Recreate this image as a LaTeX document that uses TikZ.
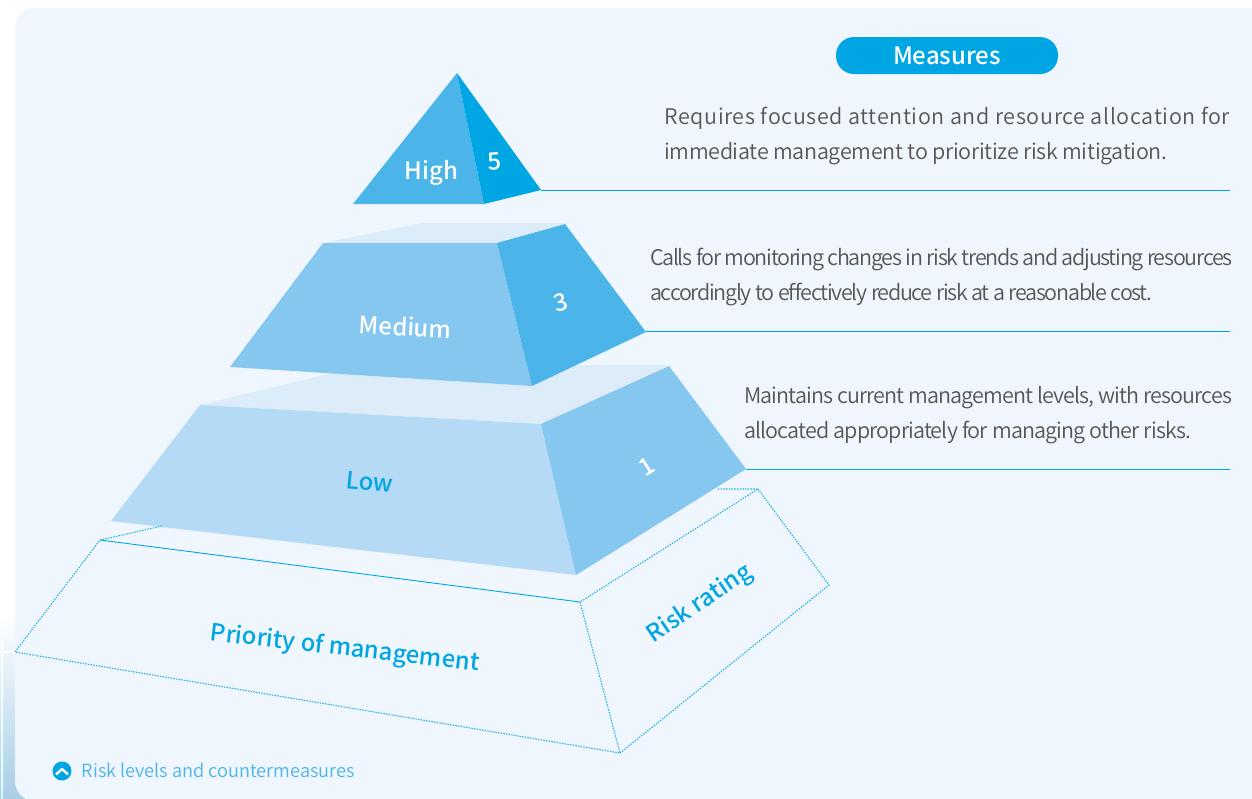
\documentclass[tikz,border=0pt]{standalone}
\usepackage{fontspec}
\setmainfont{Noto Sans CJK SC Medium}
\newfontfamily\thinfont{Noto Sans CJK SC DemiLight}
\newcommand{\bodyfont}[1]{\thinfont\addfontfeature{LetterSpace=#1}\fontsize{21.5}{21.5}\selectfont}
\definecolor{panelbg}{HTML}{EFF6FD}
\definecolor{capblue}{HTML}{00A6E3}
\definecolor{midblue}{HTML}{4BB4E9}
\definecolor{softblue}{HTML}{86C7EF}
\definecolor{paleblue}{HTML}{B5DAF5}
\definecolor{topblue}{HTML}{DCECF9}
\definecolor{stripblue}{HTML}{A8CEE6}
\definecolor{glowblue}{HTML}{D8FBFF}
\definecolor{bodygray}{HTML}{555555}
\tikzset{
  whitelabel/.style={text=white,font=\fontsize{24}{24}\selectfont,anchor=center,inner sep=0pt},
  bluelabel/.style={text=capblue,font=\fontsize{23.8}{23.8}\selectfont,anchor=center,inner sep=0pt},
  bodyline/.style={text=bodygray,anchor=base west,inner sep=0pt},
  leader/.style={draw=capblue,line width=0.9pt},
  dotline/.style={draw=capblue!85,line width=1.1pt,dash pattern=on 1.5pt off 1.2pt}
}
\begin{document}
\begin{tikzpicture}[x=1pt,y=-1pt]
  \useasboundingbox (0,0) rectangle (1252,798);
  \begin{scope}
    \clip (0,0) rectangle (1252,798);
    \shade[top color=white,bottom color=stripblue] (0,615) rectangle (40,798);
    \shade[top color=white,bottom color=glowblue] (1,640) rectangle (3,798);
    \fill[white] (0,651) rectangle (15,653);
    \fill[panelbg,rounded corners=20pt] (15,801) -- (15,8) -- (1290,8) -- (1290,801) -- cycle;
  \end{scope}

  \fill[topblue] (200,405) -- (365,365) -- (669,365) -- (541,424) -- cycle;
  \fill[paleblue] (200,405) -- (541,424) -- (576,575) -- (111,521) -- cycle;
  \fill[softblue] (541,424) -- (669,366) -- (746,469) -- (576,575) -- cycle;

  \fill[topblue] (323,243) -- (422,223) -- (565,223) -- (497,243) -- cycle;
  \fill[softblue] (323,243) -- (497,243) -- (532,386) -- (230,367) -- cycle;
  \fill[midblue] (497,243) -- (565,224) -- (646,332) -- (532,386) -- cycle;

  \fill[midblue] (457,73) -- (484,204) -- (353,204) -- cycle;
  \fill[capblue] (457,73) -- (541,190) -- (484,204) -- cycle;

  \coordinate (highEnd) at (541,190);
  \coordinate (highRule) at (1230,190);
  \coordinate (mediumEnd) at (646,331);
  \coordinate (mediumRule) at (1230,331);
  \coordinate (lowEnd) at (746,469);
  \coordinate (lowRule) at (1230,469);
  \draw[leader] (highEnd) -- (highRule);
  \draw[leader] (mediumEnd) -- (mediumRule);
  \draw[leader] (lowEnd) -- (lowRule);

  \coordinate (baseBack) at (100,540);
  \coordinate (baseHidden) at (162,526);
  \coordinate (baseLeft) at (15,652);
  \coordinate (baseFront) at (580,602);
  \coordinate (baseBottom) at (620,753);
  \coordinate (baseRight) at (758,489);
  \coordinate (baseHiddenB) at (717,489);
  \coordinate (baseFar) at (829,585);
  \draw[capblue,line width=0.9pt] (baseBack) -- (baseFront);
  \draw[dotline] (baseHidden) -- (baseBack) -- (baseLeft) -- (baseBottom) -- (baseFront) -- (baseRight) -- (baseHiddenB);
  \draw[dotline] (baseRight) -- (baseFar) -- (baseBottom);

  \node[whitelabel] (high) at (431.5,173) {High};
  \node[whitelabel,rotate=5] (five) at (495,162) {5};
  \node[whitelabel,rotate=-3,font=\fontsize{23.8}{23.8}\selectfont] (medium) at (405.5,326.5) {Medium};
  \node[whitelabel,rotate=15] (three) at (561,302) {3};
  \node[bluelabel,rotate=-6] (low) at (369.5,482) {Low};
  \node[whitelabel,rotate=32] (one) at (647,467) {1};
  \node[bluelabel,rotate=-6.5] (priority) at (345,649) {Priority of management};
  \node[bluelabel,rotate=34] (rating) at (700,604) {Risk rating};

  \node[fill=capblue,rounded corners=18pt,minimum width=222pt,minimum height=37pt,inner sep=0pt,
        text=white,font=\fontsize{24}{24}\selectfont] (measures) at (947,55.5) {Measures};

  \node[bodyline,font=\bodyfont{3}] (reqA) at (664,124) {Requires focused attention and resource allocation for};
  \node[bodyline,font=\bodyfont{-1.5}] (reqB) at (664,159) {immediate management to prioritize risk mitigation.};
  \node[bodyline,font=\bodyfont{-6}] (callA) at (650,265) {Calls for monitoring changes in risk trends and adjusting resources};
  \node[bodyline,font=\bodyfont{-6}] (callB) at (650,300) {accordingly to effectively reduce risk at a reasonable cost.};
  \node[bodyline,font=\bodyfont{-4.1}] (keepA) at (744,403) {Maintains current management levels, with resources};
  \node[bodyline,font=\bodyfont{-3.85}] (keepB) at (744,438) {allocated appropriately for managing other risks.};

  \fill[capblue] (62,771) circle (9.5);
  \draw[white,line width=2.4pt,line join=round] (56,774.5) -- (62,769) -- (68,774.5);
  \node[anchor=base west,inner sep=0pt,text=midblue,font=\thinfont\fontsize{18.2}{18.2}\selectfont] (caption) at (81.5,777) {Risk levels and countermeasures};
\end{tikzpicture}
\end{document}
